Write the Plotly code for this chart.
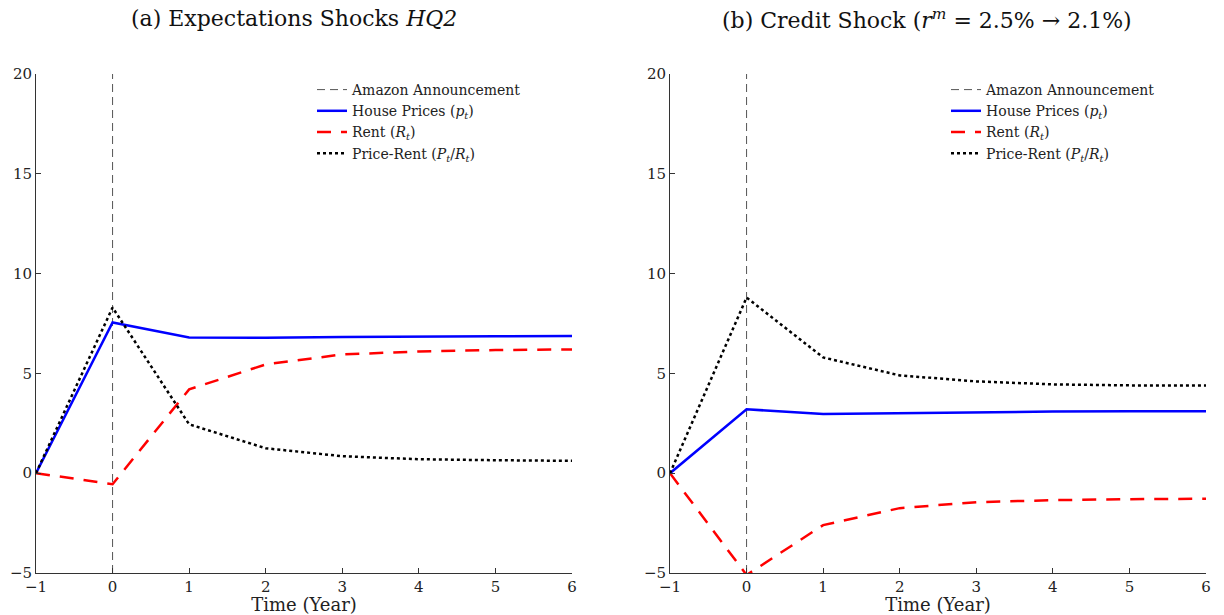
import plotly.graph_objects as go

t = [-1, 0, 1, 2, 3, 4, 5, 6]

# Panel (a): Expectations shocks HQ2
a_price = [0, 7.55, 6.8, 6.78, 6.82, 6.85, 6.86, 6.87]
a_rent = [0, -0.55, 4.2, 5.45, 5.95, 6.1, 6.17, 6.2]
a_pr = [0, 8.3, 2.45, 1.25, 0.85, 0.7, 0.65, 0.62]

# Panel (b): Credit shock
b_price = [0, 3.2, 2.97, 3.02, 3.07, 3.09, 3.1, 3.1]
b_rent = [0, -5.1, -2.6, -1.75, -1.45, -1.35, -1.3, -1.28]
b_pr = [0, 8.8, 5.8, 4.9, 4.6, 4.45, 4.4, 4.4]

announce_x = [0, 0]
y_range = [-5, 20]
y_ticks = [-5, 0, 5, 10, 15, 20]
x_ticks = [-1, 0, 1, 2, 3, 4, 5, 6]

titles = ["(a) Expectations Shocks <i>HQ2</i>",
          "(b) Credit Shock (<i>r<sup>m</sup></i> = 2.5% → 2.1%)"]
names = ["Amazon Announcement", "House Prices (<i>p<sub>t</sub></i>)",
         "Rent (<i>R<sub>t</sub></i>)", "Price-Rent (<i>P<sub>t</sub></i>/<i>R<sub>t</sub></i>)"]

FONT = "DejaVu Serif, Liberation Serif, serif"
W, H = 1224, 615

fig = go.Figure()

panels = [(a_price, a_rent, a_pr, "x", "y", "legend"),
          (b_price, b_rent, b_pr, "x2", "y2", "legend2")]

for price, rent, pr, xa, ya, lg in panels:
    fig.add_trace(go.Scatter(x=announce_x, y=y_range, mode="lines", name=names[0],
                             line=dict(color="#555555", width=1, dash="8px,5px"),
                             xaxis=xa, yaxis=ya, legend=lg))
    fig.add_trace(go.Scatter(x=t, y=price, mode="lines", name=names[1],
                             line=dict(color="#0000ff", width=2.5),
                             xaxis=xa, yaxis=ya, legend=lg))
    fig.add_trace(go.Scatter(x=t, y=rent, mode="lines", name=names[2],
                             line=dict(color="#ff0000", width=2.5, dash="14px,10px"),
                             xaxis=xa, yaxis=ya, legend=lg))
    fig.add_trace(go.Scatter(x=t, y=pr, mode="lines", name=names[3],
                             line=dict(color="#000000", width=2.5, dash="3px,3px"),
                             xaxis=xa, yaxis=ya, legend=lg))

def xaxis(domain, anchor):
    return dict(domain=domain, anchor=anchor, range=[-1, 6], tickvals=x_ticks,
                automargin=False,
                showgrid=False, zeroline=False, showline=True, linecolor="#333333",
                linewidth=1, ticks="inside", ticklen=5, tickcolor="#333333",
                tickfont=dict(family=FONT, size=15, color="#222222"),
                title=dict(text="Time (Year)", font=dict(family=FONT, size=18, color="#222222"),
                           standoff=0))

def yaxis(domain, anchor):
    return dict(domain=domain, anchor=anchor, range=y_range, tickvals=y_ticks,
                automargin=False,
                showgrid=False, zeroline=False, showline=True, linecolor="#333333",
                linewidth=1, ticks="inside", ticklen=5, tickcolor="#333333",
                tickfont=dict(family=FONT, size=15, color="#222222"))

ydom = [(H - 573) / H, (H - 74) / H]
fig.update_layout(
    width=W, height=H,
    margin=dict(l=0, r=0, t=0, b=0, autoexpand=False),
    paper_bgcolor="white", plot_bgcolor="white",
    font=dict(family=FONT, color="#222222"),
    xaxis=xaxis([36 / W, 572 / W], "y"),
    yaxis=yaxis(ydom, "x"),
    xaxis2=xaxis([670 / W, 1206 / W], "y2"),
    yaxis2=yaxis(ydom, "x2"),
    legend=dict(x=312 / W, y=(H - 74) / H, xanchor="left", yanchor="top",
                bgcolor="rgba(0,0,0,0)", font=dict(family=FONT, size=14, color="#222222"),
                tracegroupgap=0, itemwidth=30),
    legend2=dict(x=946 / W, y=(H - 74) / H, xanchor="left", yanchor="top",
                 bgcolor="rgba(0,0,0,0)", font=dict(family=FONT, size=14, color="#222222"),
                 tracegroupgap=0, itemwidth=30),
    annotations=[
        dict(text=titles[0], x=294 / W, y=(H - 19) / H, xref="paper", yref="paper",
             xanchor="center", yanchor="middle",
             showarrow=False, font=dict(family=FONT, size=22, color="#111111")),
        dict(text=titles[1], x=927 / W, y=(H - 19) / H, xref="paper", yref="paper",
             xanchor="center", yanchor="middle",
             showarrow=False, font=dict(family=FONT, size=22, color="#111111")),
    ],
)

fig.write_html("out.html")
